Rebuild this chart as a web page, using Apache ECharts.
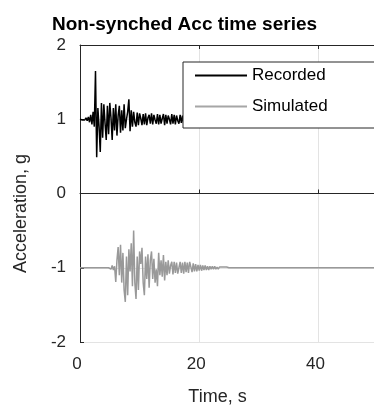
<!DOCTYPE html>
<html>
<head>
<meta charset="utf-8">
<script src="https://cdn.jsdelivr.net/npm/echarts@6/dist/echarts.min.js"></script>
<style>
  html, body { margin: 0; padding: 0; background: #fff; }
  #main { width: 374px; height: 408px; }
</style>
</head>
<body>
<div id="main"></div>
<script>
// sample step of both records, seconds
var dt = 0.2;

// recorded acceleration, offset to +1 g, from t = 0 s
var recorded = [
  1.00, 1.01, 0.99, 1.01, 0.99, 1.02, 0.98, 1.03, 0.96, 1.06,
  0.93, 1.10, 0.90, 1.65, 0.49, 1.15, 0.90, 0.56, 1.22, 0.75,
  1.20, 0.95, 0.72, 1.18, 0.80, 1.22, 1.02, 0.72, 1.15, 0.85,
  1.20, 0.78, 1.05, 1.18, 0.82, 1.12, 0.85, 1.20, 0.88, 1.00,
  1.10, 1.27, 0.84, 1.12, 0.90, 1.10, 0.96, 0.90, 1.09, 0.92,
  1.08, 1.01, 0.92, 1.07, 0.93, 1.08, 0.92, 1.02, 1.06, 0.94,
  1.08, 0.93, 1.06, 0.99, 0.94, 1.07, 0.93, 1.06, 0.94, 1.01,
  1.07, 0.92, 1.06, 0.94, 1.05, 1.00, 0.93, 1.07, 0.94, 1.06,
  0.93, 1.05, 0.98, 0.94, 1.06, 0.95, 1.05, 0.94, 1.01, 1.06,
  0.95, 1.04, 0.94, 1.05, 0.99, 0.95, 1.06, 0.95, 1.04, 0.95,
  1.05, 0.96, 1.04, 0.96, 1.03, 0.97, 1.03, 0.97, 1.02, 0.98,
  1.02, 0.99, 1.01, 1.00
];

// simulated acceleration, offset to -1 g, from t = 0 s
var simulated = [
  -1.00, -1.00, -1.00, -1.00, -1.00, -1.00, -1.00, -1.00, -1.00, -1.00,
  -1.00, -1.00, -1.00, -1.00, -1.00, -1.00, -1.00, -1.00, -1.00, -1.00,
  -1.00, -1.00, -1.00, -1.00, -1.00,
  -1.00, -1.02, -0.97, -1.03, -0.98,
  -1.19, -0.90, -0.72, -1.10, -0.69,
  -1.20, -0.80, -1.30, -1.46, -0.85,
  -1.37, -0.75, -1.05, -0.67, -1.25,
  -0.50, -1.20, -1.42, -0.85, -1.30,
  -0.78, -0.95, -0.73, -1.20, -1.37,
  -0.85, -1.15, -0.82, -1.27, -0.90,
  -0.78, -1.15, -0.88, -1.20, -1.02,
  -1.25, -0.80, -1.10, -0.90, -1.12,
  -0.83, -1.17, -0.92, -1.10, -0.90,
  -1.08, -0.97, -0.92, -1.09, -0.92,
  -1.07, -0.93, -1.08, -1.00, -0.92,
  -1.07, -0.93, -1.08, -0.92, -1.06,
  -0.93, -1.07, -0.92, -0.91, -1.06,
  -0.94, -1.05, -0.95, -1.05, -0.96,
  -1.04, -0.96, -1.04, -0.97, -1.03,
  -0.97, -1.03, -0.98, -1.03, -0.98,
  -1.02, -0.98, -1.02, -0.98, -1.02,
  -0.99, -1.02, -0.99, -1.01, -0.99,
  -1.01, -0.99, -1.01, -0.99, -1.01,
  -1.00
];
// simulated record stays at rest up to this time
var simEndTime = 50;

var xTicks = [0, 20, 40];
var yTicks = [-2, -1, 0, 1, 2];

var font = "'Liberation Sans', Arial, Helvetica, sans-serif";
var ink = '#262626';

function toPairs(values) {
  return values.map(function (v, i) { return [+(i * dt).toFixed(2), v]; });
}

var recData = toPairs(recorded);
var simData = toPairs(simulated);
simData.push([simEndTime, simulated[simulated.length - 1]]);

var myChart = echarts.init(document.getElementById('main'));
var option = {
  backgroundColor: '#fff',
  animation: false,
  title: {
    text: 'Non-synched Acc time series',
    left: 47,
    top: 10,
    textStyle: { fontFamily: font, fontSize: 19, fontWeight: 'bold', color: '#000' }
  },
  legend: {
    orient: 'vertical',
    left: 183,
    top: 62,
    padding: [5, 48, 13, 12],
    itemGap: 14,
    itemWidth: 52,
    itemHeight: 2,
    backgroundColor: '#fff',
    borderColor: ink,
    borderWidth: 1,
    borderRadius: 0,
    textStyle: { fontFamily: font, fontSize: 17, color: '#000' },
    data: [
      { name: 'Recorded', icon: 'rect', itemStyle: { color: '#000' } },
      { name: 'Simulated', icon: 'rect', itemStyle: { color: '#a6a6a6' } }
    ]
  },
  grid: { left: 80, right: -4, top: 45, bottom: 66, outerBoundsMode: 'none', containLabel: false },
  xAxis: [{
    type: 'value',
    min: 0,
    max: 50,
    interval: 20,
    name: 'Time, s',
    nameLocation: 'middle',
    nameGap: 46,
    nameTextStyle: { fontFamily: font, fontSize: 18, color: ink, padding: [0, 23, 0, 0] },
    axisLine: { show: true, lineStyle: { color: ink, width: 1 } },
    axisTick: { show: true, inside: true, length: 4, lineStyle: { color: ink } },
    axisLabel: {
      fontFamily: font, fontSize: 17, color: ink, margin: 14,
      padding: [0, 6, 0, 0],
      showMaxLabel: false,
      formatter: function (v) { return xTicks.indexOf(v) >= 0 ? String(v) : ''; }
    },
    splitLine: { show: true, lineStyle: { color: '#e3e3e3', width: 1 } }
  }, {
    type: 'value',
    position: 'top',
    min: 0,
    max: 50,
    interval: 20,
    axisLine: { show: true, onZero: false, lineStyle: { color: ink, width: 1 } },
    axisTick: { show: true, inside: true, length: 4, lineStyle: { color: ink } },
    axisLabel: { show: false },
    splitLine: { show: false }
  }],
  yAxis: {
    type: 'value',
    min: -2,
    max: 2,
    interval: 1,
    name: 'Acceleration, g',
    nameLocation: 'middle',
    nameGap: 50,
    nameTextStyle: { fontFamily: font, fontSize: 18, color: ink, padding: [0, 40, 0, 0] },
    axisLine: { show: true, lineStyle: { color: ink, width: 1 } },
    axisTick: { show: true, inside: true, length: 4, lineStyle: { color: ink } },
    axisLabel: {
      fontFamily: font, fontSize: 17, color: ink, margin: 14,
      padding: [0, 0, 8, 0],
      formatter: function (v) { return yTicks.indexOf(v) >= 0 ? String(v) : ''; }
    },
    splitLine: { show: true, lineStyle: { color: '#e3e3e3', width: 1 } }
  },
  series: [
    {
      name: 'Recorded',
      type: 'line',
      data: recData,
      symbol: 'none',
      color: '#000',
      lineStyle: { color: '#000', width: 1.5 },
      z: 3
    },
    {
      name: 'Simulated',
      type: 'line',
      data: simData,
      symbol: 'none',
      color: '#999999',
      lineStyle: { color: '#999999', width: 1.5 },
      z: 2
    }
  ]
};
myChart.setOption(option);
</script>
</body>
</html>
